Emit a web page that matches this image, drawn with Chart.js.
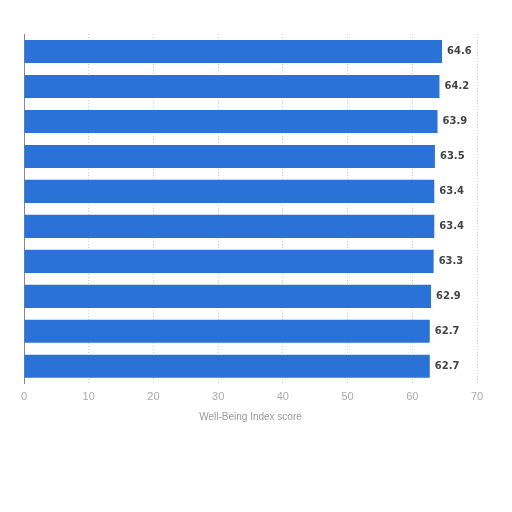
<!DOCTYPE html>
<html>
<head>
<meta charset="utf-8">
<script src="https://cdn.jsdelivr.net/npm/chart.js@4"></script>
<style>
  html, body { margin: 0; padding: 0; background: #fff; }
  #wrap { width: 512px; height: 512px; }
</style>
</head>
<body>
<div id="wrap"><canvas id="chart"></canvas></div>
<script>
// category names are not readable in the picture
const categories = ["", "", "", "", "", "", "", "", "", ""];
const scores = [64.6, 64.2, 63.9, 63.5, 63.4, 63.4, 63.3, 62.9, 62.7, 62.7];
const xTicks = [0, 10, 20, 30, 40, 50, 60, 70];
const axisTitle = "Well-Being Index score";

// draw the value at the end of each bar
const valueLabels = {
  id: "valueLabels",
  afterDatasetsDraw(chart) {
    const ctx = chart.ctx;
    const meta = chart.getDatasetMeta(0);
    ctx.save();
    ctx.font = "bold 10px 'DejaVu Sans', sans-serif";
    ctx.fillStyle = "#444";
    ctx.textAlign = "left";
    ctx.textBaseline = "middle";
    meta.data.forEach((bar, i) => {
      ctx.fillText(scores[i].toFixed(1), bar.x + 5, bar.y);
    });
    ctx.restore();
  },
};

new Chart(document.getElementById("chart"), {
  type: "bar",
  data: {
    labels: categories,
    datasets: [
      {
        data: scores,
        backgroundColor: "#2a72d8",
        borderWidth: 0,
        categoryPercentage: 1,
        barPercentage: 0.66,
      },
    ],
  },
  options: {
    indexAxis: "y",
    responsive: true,
    maintainAspectRatio: false,
    animation: false,
    layout: { padding: { top: 34, left: 16, right: 35, bottom: 85 } },
    plugins: {
      legend: { display: false },
      tooltip: { enabled: false },
    },
    scales: {
      x: {
        min: 0,
        max: 70,
        afterBuildTicks: (axis) => {
          axis.ticks = xTicks.map((v) => ({ value: v }));
        },
        grid: {
          color: "#cfcfcf",
          drawTicks: false,
        },
        border: { display: false, dash: [1, 2] },
        ticks: {
          color: "#aaa",
          padding: 7,
          font: { size: 11, family: "'Liberation Sans', Arial, sans-serif" },
        },
        title: {
          display: true,
          text: axisTitle,
          color: "#999",
          padding: { top: 0 },
          font: { size: 10, family: "'Liberation Sans', Arial, sans-serif" },
        },
      },
      y: {
        grid: { display: false },
        border: { display: true, color: "#888", width: 1 },
        ticks: { display: false },
      },
    },
  },
  plugins: [valueLabels],
});
</script>
</body>
</html>
